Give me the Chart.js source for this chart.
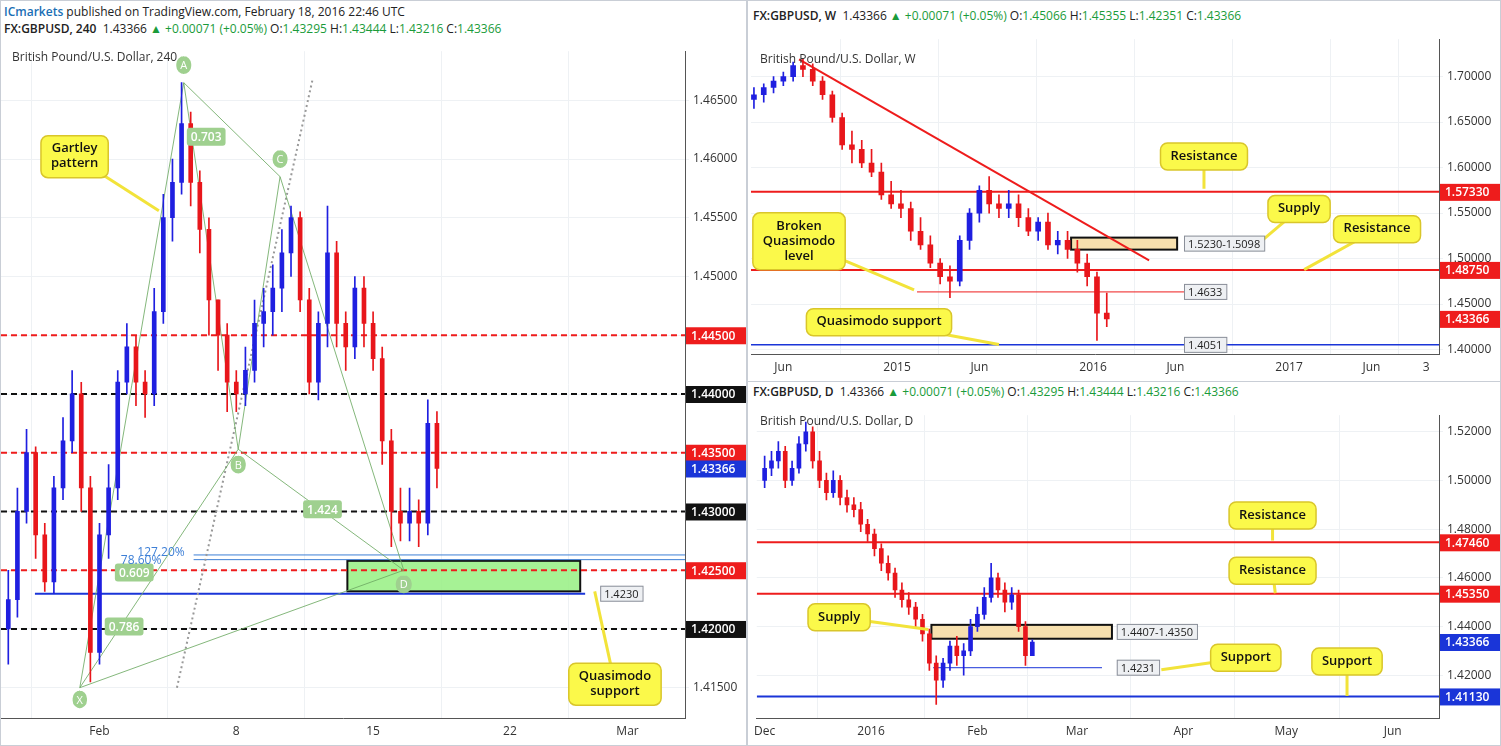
<!DOCTYPE html>
<html>
<head>
<meta charset="utf-8">
<script src="https://cdn.jsdelivr.net/npm/chart.js@4"></script>
<style>
  body { margin: 0; width: 1501px; height: 746px; background: #fff; font-family: "Open Sans", Arial, sans-serif; overflow: hidden; position: relative; }
  .panel { position: absolute; border: 1px solid #c9ced6; box-sizing: border-box; background: #fff; }
  .hdr { position: absolute; font-size: 12px; color: #222; white-space: nowrap; }
  .hdr b { font-weight: 600; }
  .g { color: #1a9b3a; }
  .ttl { position: absolute; font-size: 12px; color: #333; }
  canvas { position: absolute; }
</style>
</head>
<body>
<div class="panel" style="left:0;top:0;width:747px;height:746px"></div>
<div class="panel" style="left:747px;top:0;width:754px;height:382px"></div>
<div class="panel" style="left:747px;top:381px;width:754px;height:365px"></div>

<div class="hdr" style="left:4px;top:3px"><b style="color:#1a6fb5">ICmarkets</b> published on TradingView.com, February 18, 2016 22:46 UTC</div>
<div class="hdr" style="left:4px;top:20px"><b>FX:GBPUSD, 240</b>&nbsp; 1.43366 <span class="g">▲ +0.00071 (+0.05%)</span> O:<span class="g">1.43295</span> H:<span class="g">1.43444</span> L:<span class="g">1.43216</span> C:<span class="g">1.43366</span></div>
<div class="hdr" style="left:753px;top:7px"><b>FX:GBPUSD, W</b>&nbsp; 1.43366 <span class="g">▲ +0.00071 (+0.05%)</span> O:<span class="g">1.45066</span> H:<span class="g">1.45355</span> L:<span class="g">1.42351</span> C:<span class="g">1.43366</span></div>
<div class="hdr" style="left:753px;top:383px"><b>FX:GBPUSD, D</b>&nbsp; 1.43366 <span class="g">▲ +0.00071 (+0.05%)</span> O:<span class="g">1.43295</span> H:<span class="g">1.43444</span> L:<span class="g">1.43216</span> C:<span class="g">1.43366</span></div>

<canvas id="c4h" style="left:1px;top:40px" width="745" height="705"></canvas>
<canvas id="cw" style="left:748px;top:28px" width="752" height="353"></canvas>
<canvas id="cd" style="left:748px;top:404px" width="752" height="341"></canvas>

<div class="ttl" style="left:12px;top:48px">British Pound/U.S. Dollar, 240</div>
<div class="ttl" style="left:760px;top:50px">British Pound/U.S. Dollar, W</div>
<div class="ttl" style="left:760px;top:412px">British Pound/U.S. Dollar, D</div>

<script>
// ---------- 4H data (8h slots, index in trading days from Feb 1) ----------
var h4Open  = [1.4200,1.4225,1.4300,1.4350,1.4280,1.4240,1.4320,1.4360,1.4400,1.4320,1.4180,1.4280,1.4320,1.4410,1.4440,1.4410,1.4400,1.4470,1.4550,1.4580,1.4630,1.4580,1.4540,1.4480,1.4450,1.4410,1.4400,1.4420,1.4460,1.4470,1.4490,1.4520,1.4550,1.4480,1.4410,1.4460,1.4520,1.4460,1.4440,1.4490,1.4460,1.4430,1.4360,1.4300,1.4290,1.4300,1.4290,1.4375];
var h4High  = [1.4250,1.4320,1.4370,1.4355,1.4290,1.4330,1.4380,1.4420,1.4410,1.4330,1.4290,1.4340,1.4420,1.4460,1.4450,1.4420,1.4490,1.4570,1.4600,1.4665,1.4640,1.4590,1.4550,1.4480,1.4460,1.4420,1.4440,1.4480,1.4490,1.4510,1.4540,1.4560,1.4555,1.4490,1.4470,1.4560,1.4530,1.4470,1.4500,1.4500,1.4470,1.4440,1.4370,1.4320,1.4320,1.4310,1.4395,1.4385];
var h4Low   = [1.4170,1.4210,1.4290,1.4260,1.4232,1.4230,1.4310,1.4350,1.4300,1.4155,1.4170,1.4260,1.4310,1.4400,1.4390,1.4380,1.4390,1.4460,1.4530,1.4570,1.4560,1.4520,1.4450,1.4420,1.4385,1.4385,1.4390,1.4410,1.4440,1.4450,1.4470,1.4500,1.4470,1.4400,1.4395,1.4440,1.4440,1.4420,1.4430,1.4440,1.4420,1.4340,1.4270,1.4275,1.4275,1.4270,1.4280,1.4320];
var h4Close = [1.4225,1.4300,1.4350,1.4280,1.4240,1.4320,1.4360,1.4400,1.4320,1.4180,1.4280,1.4320,1.4410,1.4440,1.4410,1.4400,1.4470,1.4550,1.4580,1.4630,1.4580,1.4540,1.4480,1.4450,1.4410,1.4400,1.4420,1.4460,1.4470,1.4490,1.4520,1.4550,1.4480,1.4410,1.4460,1.4520,1.4460,1.4440,1.4490,1.4460,1.4430,1.4360,1.4300,1.4290,1.4300,1.4290,1.4375,1.43366];
var h4Slots = h4Close.map(function (_, i) { return -10 / 3 + i / 3; });
var h4TickVals = [0, 5, 10, 15, 19.3];
var h4TickLabels = ['Feb', '8', '15', '22', 'Mar'];

// ---------- Weekly data (x in years) ----------
var wYears = [2014.27,2014.32,2014.37,2014.42,2014.47,2014.52,2014.57,2014.62,2014.67,2014.72,2014.77,2014.82,2014.87,2014.92,2014.97,2015.02,2015.07,2015.12,2015.17,2015.22,2015.27,2015.32,2015.37,2015.42,2015.47,2015.52,2015.57,2015.62,2015.67,2015.72,2015.77,2015.82,2015.87,2015.92,2015.97,2016.02,2016.07];
var wOpen  = [1.675,1.680,1.688,1.695,1.700,1.712,1.708,1.695,1.680,1.655,1.625,1.620,1.605,1.595,1.570,1.560,1.555,1.530,1.515,1.495,1.480,1.475,1.520,1.550,1.575,1.560,1.555,1.560,1.545,1.530,1.540,1.515,1.520,1.510,1.495,1.480,1.440];
var wHigh  = [1.688,1.692,1.700,1.705,1.716,1.719,1.714,1.700,1.684,1.660,1.640,1.630,1.620,1.605,1.585,1.575,1.562,1.545,1.525,1.500,1.492,1.525,1.555,1.580,1.590,1.570,1.575,1.570,1.555,1.545,1.550,1.530,1.530,1.520,1.505,1.485,1.462];
var wLow   = [1.665,1.672,1.682,1.690,1.695,1.700,1.690,1.675,1.650,1.620,1.605,1.600,1.590,1.565,1.555,1.545,1.520,1.510,1.490,1.472,1.457,1.470,1.510,1.540,1.550,1.545,1.545,1.535,1.525,1.520,1.510,1.505,1.500,1.485,1.470,1.410,1.425];
var wClose = [1.680,1.688,1.695,1.700,1.712,1.708,1.695,1.680,1.655,1.625,1.620,1.605,1.595,1.570,1.560,1.555,1.530,1.515,1.495,1.480,1.475,1.520,1.550,1.575,1.560,1.555,1.560,1.545,1.530,1.540,1.515,1.520,1.510,1.495,1.480,1.440,1.43366];
var wTickVals = [2014.42, 2015, 2015.42, 2016, 2016.42, 2017, 2017.42, 2017.7];
var wTickLabels = ['Jun', '2015', 'Jun', '2016', 'Jun', '2017', 'Jun', '3'];

// ---------- Daily data (x in days from Dec 1, 2015) ----------
var dDays = [0,2,4,6,8,10,12,14,16,18,20,22,24,26,28,30,32,34,36,38,40,42,44,46,48,50,52,54,56,58,60,62,64,66,68,70,72,74,76,78];
var dOpen  = [1.500,1.505,1.508,1.512,1.500,1.505,1.515,1.520,1.508,1.500,1.495,1.500,1.493,1.490,1.488,1.482,1.478,1.472,1.466,1.462,1.455,1.451,1.448,1.443,1.437,1.425,1.418,1.425,1.432,1.428,1.430,1.440,1.445,1.452,1.460,1.455,1.450,1.453,1.440,1.428];
var dHigh  = [1.510,1.512,1.516,1.514,1.508,1.518,1.524,1.522,1.512,1.503,1.504,1.502,1.496,1.493,1.491,1.484,1.480,1.474,1.469,1.464,1.458,1.454,1.450,1.445,1.439,1.428,1.427,1.434,1.436,1.433,1.443,1.448,1.456,1.466,1.462,1.458,1.456,1.455,1.442,1.4345];
var dLow   = [1.497,1.502,1.505,1.497,1.498,1.503,1.512,1.505,1.497,1.492,1.493,1.490,1.487,1.485,1.479,1.475,1.469,1.463,1.459,1.452,1.448,1.445,1.440,1.434,1.422,1.408,1.415,1.422,1.424,1.420,1.428,1.438,1.443,1.450,1.452,1.446,1.447,1.438,1.424,1.4285];
var dClose = [1.505,1.508,1.512,1.500,1.505,1.515,1.520,1.508,1.500,1.495,1.500,1.493,1.490,1.488,1.482,1.478,1.472,1.466,1.462,1.455,1.451,1.448,1.443,1.437,1.425,1.418,1.425,1.432,1.428,1.430,1.440,1.445,1.452,1.460,1.455,1.450,1.453,1.440,1.428,1.43366];
var dTickVals = [0, 31, 62, 91, 122, 152, 183];
var dTickLabels = ['Dec', '2016', 'Feb', 'Mar', 'Apr', 'May', 'Jun'];

var UP = '#1f1fe0', DOWN = '#e8161b', RED = '#ee1c1c', BLUE = '#1a35d8';

function candleSets(xs, o, h, l, c, w) {
  var col = c.map(function (v, i) { return v >= o[i] ? UP : DOWN; });
  return [
    { type: 'bar', data: xs.map(function (x, i) { return { x: x, y: [l[i], h[i]] }; }),
      backgroundColor: col, barThickness: 1, grouped: false, order: 2 },
    { type: 'bar', data: xs.map(function (x, i) { return { x: x, y: [Math.min(o[i], c[i]), Math.max(o[i], c[i]) + 0.00001] }; }),
      backgroundColor: col, barThickness: w, grouped: false, order: 1 }
  ];
}

function level(x0, x1, p, color, dash, width) {
  return { type: 'line', data: [{ x: x0, y: p }, { x: x1, y: p }], borderColor: color,
    borderDash: dash || [], borderWidth: width || 2, pointRadius: 0, order: 5 };
}
function seg(pts, color, dash, width) {
  return { type: 'line', data: pts.map(function (p) { return { x: p[0], y: p[1] }; }), borderColor: color,
    borderDash: dash || [], borderWidth: width || 1, pointRadius: 0, order: 4 };
}

function rr(ctx, x, y, w, h, r) {
  ctx.beginPath();
  ctx.moveTo(x + r, y); ctx.arcTo(x + w, y, x + w, y + h, r); ctx.arcTo(x + w, y + h, x, y + h, r);
  ctx.arcTo(x, y + h, x, y, r); ctx.arcTo(x, y, x + w, y, r); ctx.closePath();
}

var overlay = {
  id: 'overlay',
  beforeDatasetsDraw: function (chart) {
    var o = chart.options.plugins.overlay, ctx = chart.ctx, xs = chart.scales.x, ys = chart.scales.y;
    (o.boxes || []).forEach(function (b) {
      var x0 = xs.getPixelForValue(b.x0), x1 = xs.getPixelForValue(b.x1);
      var y0 = ys.getPixelForValue(b.p0), y1 = ys.getPixelForValue(b.p1);
      ctx.fillStyle = b.fill; ctx.fillRect(x0, y0, x1 - x0, y1 - y0);
      ctx.strokeStyle = '#111'; ctx.lineWidth = 2; ctx.strokeRect(x0, y0, x1 - x0, y1 - y0);
    });
  },
  afterDatasetsDraw: function (chart) {
    var o = chart.options.plugins.overlay, ctx = chart.ctx, xs = chart.scales.x, ys = chart.scales.y;
    var ca = chart.chartArea;
    ctx.save();
    (o.notes || []).forEach(function (n) {
      var x = xs.getPixelForValue(n.x), y = ys.getPixelForValue(n.p);
      ctx.font = (n.bold ? '600 ' : '') + (n.size || 12) + 'px "Open Sans"';
      var w = ctx.measureText(n.text).width + 8;
      if (n.bg) { ctx.fillStyle = n.bg; rr(ctx, x - w / 2, y - 9, w, 18, n.round || 3); ctx.fill(); }
      ctx.fillStyle = n.color || '#222'; ctx.textAlign = 'center'; ctx.textBaseline = 'middle';
      ctx.fillText(n.text, x, y + 1);
    });
    (o.callouts || []).forEach(function (c) {
      var x = xs.getPixelForValue(c.x), y = ys.getPixelForValue(c.p);
      var tx = xs.getPixelForValue(c.tx), ty = ys.getPixelForValue(c.tp);
      ctx.font = '600 13px "Open Sans"';
      var lines = c.text.split('\n');
      var w = Math.max.apply(null, lines.map(function (t) { return ctx.measureText(t).width; })) + 20;
      var h = lines.length * 15 + 12;
      ctx.strokeStyle = '#f2e33a'; ctx.lineWidth = 3;
      ctx.beginPath(); ctx.moveTo(x, y); ctx.lineTo(tx, ty); ctx.stroke();
      rr(ctx, x - w / 2, y - h / 2, w, h, 7);
      ctx.fillStyle = '#fbf94a'; ctx.fill(); ctx.strokeStyle = '#d9c62a'; ctx.lineWidth = 1.5; ctx.stroke();
      ctx.fillStyle = '#111'; ctx.textAlign = 'center'; ctx.textBaseline = 'middle';
      lines.forEach(function (t, i) { ctx.fillText(t, x, y - h / 2 + 13 + i * 15); });
    });
    (o.tags || []).forEach(function (t) {
      var x = xs.getPixelForValue(t.x), y = ys.getPixelForValue(t.p);
      ctx.font = '11px "Open Sans"';
      var w = ctx.measureText(t.text).width + 8;
      ctx.fillStyle = '#eef0f3'; ctx.fillRect(x, y - 8, w, 16);
      ctx.strokeStyle = '#8a8f99'; ctx.lineWidth = 1; ctx.strokeRect(x + 0.5, y - 7.5, w, 15);
      ctx.fillStyle = '#222'; ctx.textAlign = 'left'; ctx.textBaseline = 'middle';
      ctx.fillText(t.text, x + 4, y + 1);
    });
    (o.axisTags || []).forEach(function (t) {
      var y = ys.getPixelForValue(t.p);
      ctx.font = '600 12px "Open Sans"';
      ctx.fillStyle = t.bg; ctx.fillRect(ca.right + 1, y - 8, 60, 17);
      ctx.fillStyle = '#fff'; ctx.textAlign = 'left'; ctx.textBaseline = 'middle';
      ctx.fillText(t.text, ca.right + 6, y + 1);
    });
    ctx.restore();
  }
};

function makeChart(id, cfg) {
  new Chart(document.getElementById(id), {
    data: { datasets: cfg.datasets },
    options: {
      responsive: false, animation: false,
      layout: { padding: { left: cfg.padLeft || 0, top: 0, right: 0, bottom: 0 } },
      plugins: { legend: { display: false }, tooltip: { enabled: false }, overlay: cfg.overlay },
      scales: {
        x: { type: 'linear', min: cfg.xmin, max: cfg.xmax, offset: false,
          grid: { color: '#eef1f4', drawTicks: false },
          border: { color: '#555' },
          afterBuildTicks: function (ax) { ax.ticks = cfg.xTicks.map(function (v) { return { value: v }; }); },
          ticks: { autoSkip: false, maxRotation: 0, color: '#333', font: { size: 12, family: 'Open Sans' }, padding: 6,
            callback: function (v) { var i = cfg.xTicks.indexOf(v); return i >= 0 ? cfg.xLabels[i] : ''; } } },
        y: { position: 'right', min: cfg.ymin, max: cfg.ymax,
          afterFit: function (ax) { ax.width = 61; },
          afterBuildTicks: function (ax) {
            var t = [], v = Math.ceil(cfg.ymin / cfg.ystep - 1e-6) * cfg.ystep;
            for (; v <= cfg.ymax; v += cfg.ystep) t.push({ value: +v.toFixed(5) });
            ax.ticks = t;
          },
          grid: { color: '#eef1f4', drawTicks: true, tickLength: 4 },
          border: { color: '#555' },
          ticks: { color: '#333', font: { size: 12, family: 'Open Sans' }, padding: 4,
            callback: function (v) { return v.toFixed(5); } } }
      }
    },
    plugins: [overlay]
  });
}

// ---------- 4H chart ----------
var X = [-0.72, 1.4150], A = [3.08, 1.4665], B = [5.07, 1.4353], C = [6.6, 1.4585], D = [11.12, 1.4250];
var G = 'rgba(110,170,100,0.85)';
makeChart('c4h', {
  xmin: -3.6, xmax: 21.4, ymin: 1.41237, ymax: 1.46918, ystep: 0.005,
  xTicks: h4TickVals, xLabels: h4TickLabels,
  datasets: candleSets(h4Slots, h4Open, h4High, h4Low, h4Close, 4).concat([
    level(-3.6, 21.4, 1.4450, RED, [6, 4]),
    level(-3.6, 21.4, 1.4350, RED, [6, 4]),
    level(-3.6, 21.4, 1.4250, RED, [6, 4]),
    level(-3.6, 21.4, 1.4400, '#111', [6, 4]),
    level(-3.6, 21.4, 1.4300, '#111', [6, 4]),
    level(-3.6, 21.4, 1.4200, '#111', [6, 4]),
    level(-2.36, 17.75, 1.4230, BLUE, [], 2),
    level(3.44, 21.4, 1.4263, '#3d7fd6', [], 1),
    level(3.44, 21.4, 1.4259, '#3d7fd6', [], 1),
    seg([X, A, B, C, D], G, [], 1),
    seg([X, B, D, X], G, [], 1),
    seg([A, C], G, [], 1),
    seg([[2.83, 1.4150], [7.79, 1.4668]], '#999', [2, 3], 2)
  ]),
  overlay: {
    boxes: [{ x0: 9.06, x1: 17.57, p0: 1.4258, p1: 1.4232, fill: 'rgba(150,240,130,0.85)' }],
    notes: [
      { x: 3.9, p: 1.4619, text: '0.703', bg: '#9fd08f', color: '#fff', bold: true },
      { x: 8.15, p: 1.4302, text: '1.424', bg: '#9fd08f', color: '#fff', bold: true },
      { x: 1.27, p: 1.4248, text: '0.609', bg: '#9fd08f', color: '#fff', bold: true },
      { x: 0.9, p: 1.4202, text: '0.786', bg: '#9fd08f', color: '#fff', bold: true },
      { x: 2.25, p: 1.4266, text: '127.20%', color: '#3d7fd6' },
      { x: 1.52, p: 1.4259, text: '78.60%', color: '#3d7fd6' },
      { x: -0.72, p: 1.4140, text: 'X', bg: '#9fd08f', color: '#fff', round: 8, size: 11 },
      { x: 3.08, p: 1.4680, text: 'A', bg: '#9fd08f', color: '#fff', round: 8, size: 11 },
      { x: 5.07, p: 1.4340, text: 'B', bg: '#9fd08f', color: '#fff', round: 8, size: 11 },
      { x: 6.6, p: 1.4600, text: 'C', bg: '#9fd08f', color: '#fff', round: 8, size: 11 },
      { x: 11.12, p: 1.4238, text: 'D', bg: '#9fd08f', color: '#fff', round: 8, size: 11 }
    ],
    callouts: [
      { x: -0.91, p: 1.4602, tx: 2.17, tp: 1.4556, text: 'Gartley\npattern' },
      { x: 18.84, p: 1.4153, tx: 18.1, tp: 1.4232, text: 'Quasimodo\nsupport' }
    ],
    tags: [{ x: 18.3, p: 1.4230, text: '1.4230' }],
    axisTags: [
      { p: 1.4450, text: '1.44500', bg: RED }, { p: 1.4400, text: '1.44000', bg: '#111' },
      { p: 1.4350, text: '1.43500', bg: RED }, { p: 1.43366, text: '1.43366', bg: BLUE },
      { p: 1.4300, text: '1.43000', bg: '#111' }, { p: 1.4250, text: '1.42500', bg: RED },
      { p: 1.4200, text: '1.42000', bg: '#111' }
    ]
  }
});

// ---------- Weekly chart ----------
makeChart('cw', {
  padLeft: 3, xmin: 2014.255, xmax: 2017.765, ymin: 1.3944, ymax: 1.7411, ystep: 0.05,
  xTicks: wTickVals, xLabels: wTickLabels,
  datasets: candleSets(wYears, wOpen, wHigh, wLow, wClose, 5).concat([
    level(2014.255, 2017.765, 1.5733, RED),
    level(2014.255, 2017.765, 1.4875, RED),
    level(2015.102, 2016.464, 1.4633, RED, [], 1),
    level(2014.255, 2017.765, 1.4051, BLUE, [], 1.5),
    seg([[2014.5, 1.7190], [2016.286, 1.4980]], RED, [], 2)
  ]),
  overlay: {
    boxes: [{ x0: 2015.888, x1: 2016.429, p0: 1.5230, p1: 1.5098, fill: 'rgba(247,222,170,0.95)' }],
    callouts: [
      { x: 2016.566, p: 1.6122, tx: 2016.566, tp: 1.5767, text: 'Resistance' },
      { x: 2017.051, p: 1.5544, tx: 2016.857, tp: 1.5189, text: 'Supply' },
      { x: 2017.449, p: 1.5322, tx: 2017.077, tp: 1.4878, text: 'Resistance' },
      { x: 2014.5, p: 1.5189, tx: 2015.087, tp: 1.4656, text: 'Broken\nQuasimodo\nlevel' },
      { x: 2014.908, p: 1.4300, tx: 2015.52, tp: 1.4056, text: 'Quasimodo support' }
    ],
    tags: [
      { x: 2016.464, p: 1.5164, text: '1.5230-1.5098' },
      { x: 2016.464, p: 1.4633, text: '1.4633' },
      { x: 2016.464, p: 1.4051, text: '1.4051' }
    ],
    axisTags: [
      { p: 1.5733, text: '1.57330', bg: RED }, { p: 1.4875, text: '1.48750', bg: RED },
      { p: 1.43366, text: '1.43366', bg: RED }
    ]
  }
});

// ---------- Daily chart ----------
makeChart('cd', {
  padLeft: 3, xmin: -2.3, xmax: 196.5, ymin: 1.4022, ymax: 1.5268, ystep: 0.02,
  xTicks: dTickVals, xLabels: dTickLabels,
  datasets: candleSets(dDays, dOpen, dHigh, dLow, dClose, 4).concat([
    level(-2.3, 196.5, 1.4746, RED),
    level(-2.3, 196.5, 1.4535, RED),
    level(-2.3, 196.5, 1.4113, BLUE),
    level(49.1, 98.3, 1.4231, BLUE, [], 1)
  ]),
  overlay: {
    boxes: [{ x0: 48.6, x1: 101.2, p0: 1.4407, p1: 1.4350, fill: 'rgba(247,222,170,0.95)' }],
    callouts: [
      { x: 148, p: 1.4856, tx: 148, tp: 1.4753, text: 'Resistance' },
      { x: 148, p: 1.4629, tx: 148.8, tp: 1.4537, text: 'Resistance' },
      { x: 21.7, p: 1.4438, tx: 47.7, tp: 1.4388, text: 'Supply' },
      { x: 140.2, p: 1.4272, tx: 115.6, tp: 1.4223, text: 'Support' },
      { x: 169.7, p: 1.4256, tx: 169.7, tp: 1.4115, text: 'Support' }
    ],
    tags: [
      { x: 102.6, p: 1.4378, text: '1.4407-1.4350' },
      { x: 102.6, p: 1.4231, text: '1.4231' }
    ],
    axisTags: [
      { p: 1.4746, text: '1.47460', bg: RED }, { p: 1.4535, text: '1.45350', bg: RED },
      { p: 1.43366, text: '1.43366', bg: BLUE }, { p: 1.4113, text: '1.41130', bg: BLUE }
    ]
  }
});
</script>
</body>
</html>
